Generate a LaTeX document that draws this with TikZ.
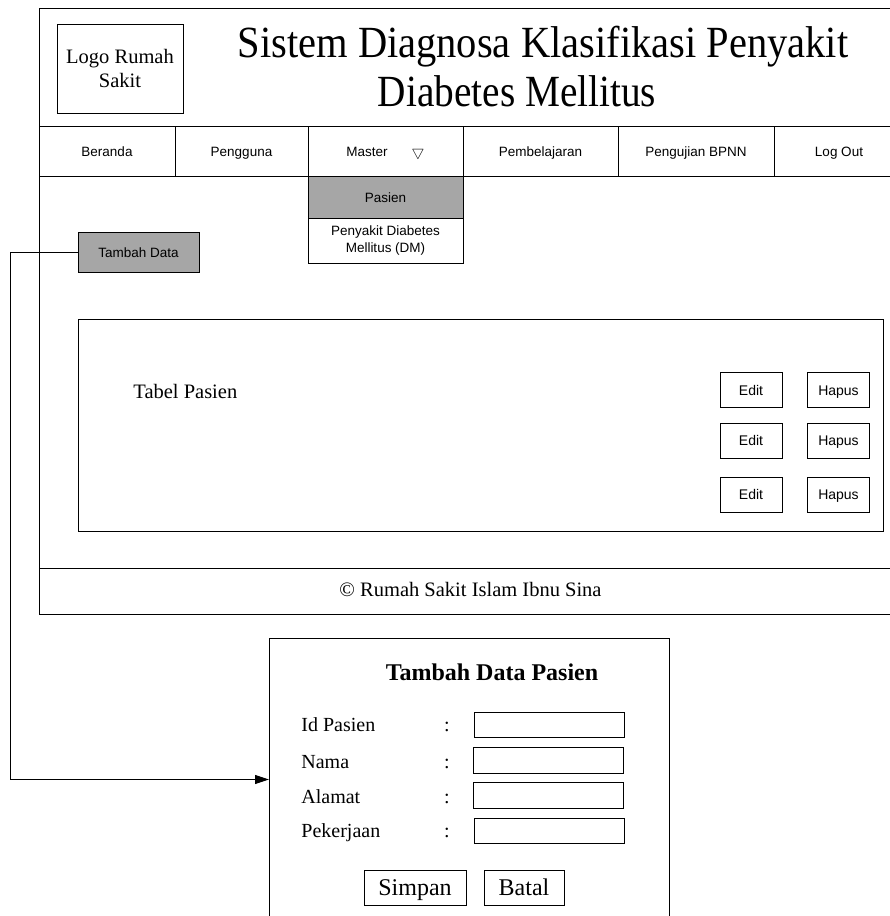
\documentclass[tikz,border=0pt]{standalone}
\usepackage{fontspec}
\usepackage{graphicx}
\setmainfont{Liberation Serif}
\setsansfont{Liberation Sans}
\usetikzlibrary{arrows.meta}
\begin{document}
\begin{tikzpicture}[x=1pt,y=-1pt,
  line width=0.8pt,
  box/.style={draw, rectangle, inner sep=0pt, align=center},
  sanstext/.style={font=\sffamily\fontsize{13.5}{17}\selectfont},
  menucell/.style={box, sanstext, minimum height=50pt, text height=10pt, text depth=0pt},
  graybox/.style={box, fill=black!35, sanstext, text height=10pt, text depth=0pt},
  smallbtn/.style={box, minimum width=62pt, minimum height=35pt, text height=10pt, text depth=0pt,
                   font=\sffamily\fontsize{14}{17}\selectfont},
  field/.style={box, minimum width=150pt, minimum height=25pt},
  serifbase/.style={inner sep=0pt, anchor=base, font=\fontsize{20.5}{25}\selectfont},
  titletext/.style={serifbase, font=\fontsize{40.5}{48}\selectfont},
  formlabel/.style={serifbase, anchor=base west, font=\fontsize{20}{24}\selectfont},
  colon/.style={serifbase, font=\fontsize{20}{24}\selectfont},
  bigbtn/.style={box, minimum height=35pt, text height=15pt, text depth=0pt,
                 font=\fontsize{24}{28}\selectfont}
]
\useasboundingbox (0,0) rectangle (890,916);

% page frame, header and footer rules
\draw (900,8) -- (39,8) -- (39,614) -- (900,614);
\draw (39,126) -- (900,126);
\draw (39,568) -- (900,568);

% header
\node[box, minimum width=126pt, minimum height=89pt, font=\fontsize{20.5}{24}\selectfont] (logo) at (120,68.5) {Logo Rumah\\Sakit};
\node[titletext] (title1) at (543,57) {\scalebox{1}[1.1]{Sistem Diagnosa Klasifikasi Penyakit}};
\node[titletext] (title2) at (517,106) {\scalebox{0.97}[1.1]{Diabetes Mellitus}};

% menu bar
\node[menucell, minimum width=136pt] (beranda) at (107,151) {Beranda};
\node[menucell, minimum width=133pt] (pengguna) at (241.5,151) {Pengguna};
\node[menucell, minimum width=155pt] (master) at (385.5,151) {Master\hspace{24pt}$\bigtriangledown$};
\node[menucell, minimum width=155pt] (belajar) at (540.5,151) {Pembelajaran};
\node[menucell, minimum width=156pt] (uji) at (696,151) {Pengujian BPNN};
\node[menucell, minimum width=130pt] (logout) at (839,151) {Log Out};

% dropdown of the Master menu
\node[graybox, minimum width=155pt, minimum height=42pt] (pasien) at (385.5,197) {Pasien};
\node[box, sanstext, minimum width=155pt, minimum height=45pt] (dm) at (385.5,240.5) {Penyakit Diabetes\\Mellitus (DM)};

% add button
\node[graybox, minimum width=121pt, minimum height=40pt] (tambah) at (138.5,252) {Tambah Data};

% table panel
\node[box, minimum width=805pt, minimum height=212pt] (tabel) at (480.5,425) {};
\node[serifbase, anchor=base west] (tabellabel) at (133,398) {Tabel Pasien};
\node[smallbtn] (edit1) at (751,390) {Edit};
\node[smallbtn] (edit2) at (751,440.5) {Edit};
\node[smallbtn] (edit3) at (751,494.5) {Edit};
\node[smallbtn] (hapus1) at (838.5,390) {Hapus};
\node[smallbtn] (hapus2) at (838.5,440.5) {Hapus};
\node[smallbtn] (hapus3) at (838.5,494.5) {Hapus};

% footer
\node[serifbase] (footer) at (470.5,596) {\textcopyright{} Rumah Sakit Islam Ibnu Sina};

% form dialog
\draw (269,920) -- (269,638) -- (669,638) -- (669,920);
\coordinate (form) at (269,779.5);
\node[serifbase, font=\bfseries\fontsize{24}{28}\selectfont] (formtitle) at (492,680) {Tambah Data Pasien};

\node[formlabel] (lid) at (301,731) {Id Pasien};
\node[formlabel] (lnama) at (301,768) {Nama};
\node[formlabel] (lalamat) at (301,803) {Alamat};
\node[formlabel] (lkerja) at (301,837) {Pekerjaan};
\node[colon] (c1) at (447,731) {:};
\node[colon] (c2) at (447,768) {:};
\node[colon] (c3) at (447,803) {:};
\node[colon] (c4) at (447,837) {:};
\node[field] (fid) at (549,724.5) {};
\node[field, minimum height=26pt] (fnama) at (548,760) {};
\node[field, minimum height=26pt] (falamat) at (548,795) {};
\node[field] (fkerja) at (549,830.5) {};

\node[bigbtn, minimum width=102pt] (simpan) at (415,887.5) {Simpan};
\node[bigbtn, minimum width=80pt] (batal) at (524,887.5) {Batal};

% connector from the add button to the form
\draw[-{Triangle[length=14pt,width=9pt]}] (tambah.west) -- (10,252) |- (form);
\end{tikzpicture}
\end{document}
